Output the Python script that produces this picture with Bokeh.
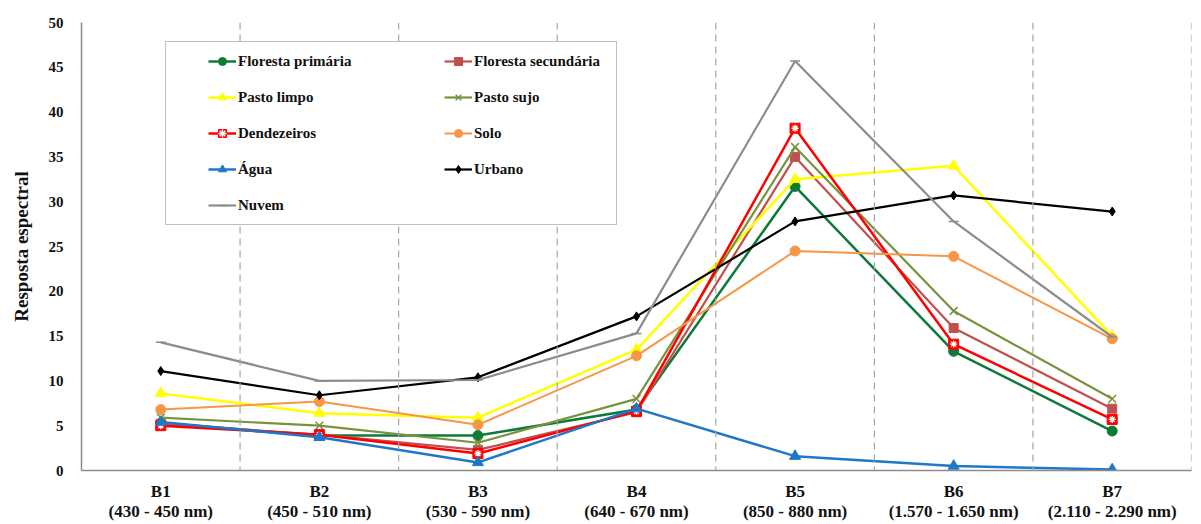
from bokeh.plotting import figure
from bokeh.models import FactorRange, Range1d, Span, Legend, LegendItem, FixedTicker
from bokeh.embed import file_html
from bokeh.resources import INLINE

bands = ["B1\n(430 - 450 nm)", "B2\n(450 - 510 nm)", "B3\n(530 - 590 nm)",
         "B4\n(640 - 670 nm)", "B5\n(850 - 880 nm)", "B6\n(1.570 - 1.650 nm)",
         "B7\n(2.110 - 2.290 nm)"]

floresta_primaria = [5.3, 3.9, 3.9, 6.8, 31.7, 13.3, 4.4]
floresta_secundaria = [5.2, 4.0, 2.3, 6.5, 35.0, 15.9, 6.9]
pasto_limpo = [8.6, 6.4, 5.9, 13.5, 32.5, 34.0, 15.0]
pasto_sujo = [5.9, 5.0, 3.1, 8.0, 36.1, 17.8, 8.0]
dendezeiros = [5.0, 4.0, 1.9, 6.6, 38.2, 14.1, 5.7]
solo = [6.8, 7.7, 5.1, 12.8, 24.5, 23.9, 14.7]
agua = [5.4, 3.7, 0.9, 6.9, 1.6, 0.5, 0.1]
urbano = [11.1, 8.4, 10.4, 17.2, 27.8, 30.7, 28.9]
nuvem = [14.3, 10.0, 10.1, 15.3, 45.7, 27.8, 14.9]

FONT = "Liberation Serif"

p = figure(x_range=FactorRange(factors=bands), y_range=Range1d(0, 50),
           frame_width=1110, frame_height=448, output_backend="svg", toolbar_location=None,
           min_border_left=81, min_border_right=4, min_border_top=22, min_border_bottom=46)
p.outline_line_color = None
p.xgrid.grid_line_color = None
p.ygrid.grid_line_color = None
p.background_fill_color = "white"

for ax in (p.xaxis[0], p.yaxis[0]):
    ax.axis_line_color = "#8C8C8C"
    ax.axis_line_width = 1.5
    ax.major_tick_line_color = None
    ax.minor_tick_line_color = None
    ax.major_label_text_font = FONT
    ax.major_label_text_font_style = "bold"
    ax.major_label_text_color = "#111111"

p.yaxis.ticker = FixedTicker(ticks=list(range(0, 51, 5)))
p.yaxis.major_label_text_font_size = "15px"
p.yaxis.major_label_standoff = 12
p.yaxis.axis_label = "Resposta espectral"
p.yaxis.axis_label_text_font = FONT
p.yaxis.axis_label_text_font_style = "bold"
p.yaxis.axis_label_text_font_size = "19px"
p.yaxis.axis_label_text_color = "#111111"
p.yaxis.axis_label_standoff = 14
p.xaxis.major_label_text_font_size = "17px"
p.xaxis.major_label_text_line_height = 1.1
p.xaxis.major_label_standoff = 5

for i in range(1, len(bands) + 1):
    p.add_layout(Span(location=i, dimension="height", line_color="#A6A6A6",
                      line_dash="7 5", line_width=1.2))

items = []

def series(name, ys, color, marker, size, lw, extra=None):
    r = [p.line(bands, ys, line_color=color, line_width=lw)]
    if marker in ("x", "dash"):
        r.append(p.scatter(bands, ys, marker=marker, size=size, line_color=color, line_width=1.5,
                           fill_color=None))
    else:
        r.append(p.scatter(bands, ys, marker=marker, size=size, fill_color=color, line_color=color))
    if extra is not None:
        r.append(p.scatter(bands, ys, marker=extra, size=size * 0.7, line_color="white",
                           line_width=1.3, fill_color=None))
    items.append(LegendItem(label=name, renderers=r))

series("Floresta primária", floresta_primaria, "#0E7A3A", "circle", 10, 2.5)
series("Floresta secundária", floresta_secundaria, "#C0504D", "square", 9, 2.2)
series("Pasto limpo", pasto_limpo, "#FFFF00", "triangle", 11, 2.5)
series("Pasto sujo", pasto_sujo, "#77933C", "x", 11, 2.2)
series("Dendezeiros", dendezeiros, "#FF0000", "square", 10, 2.5, extra="asterisk")
series("Solo", solo, "#F79646", "circle", 10, 2.0)
series("Água", agua, "#1F77C8", "triangle", 11, 2.5)
series("Urbano", urbano, "#000000", "diamond", 9, 2.2)
series("Nuvem", nuvem, "#8C8C8C", "dash", 10, 2.2)

def make_legend(its, loc, label_width, boxed):
    lg = Legend(items=its, location=loc)
    lg.label_text_font = FONT
    lg.label_text_font_style = "bold"
    lg.label_text_font_size = "15px"
    lg.label_text_color = "#111111"
    lg.glyph_width = 28
    lg.glyph_height = 20
    lg.label_height = 20
    lg.label_standoff = 2
    lg.label_width = label_width
    lg.spacing = 16
    lg.padding = 9
    lg.margin = 0
    if boxed:
        lg.title = " "
        lg.title_location = "left"
        lg.title_text_font_size = "1px"
        lg.title_standoff = 32
        lg.border_line_color = "#7F7F7F"
        lg.border_line_width = 1.2
        lg.background_fill_alpha = 1
    else:
        lg.border_line_color = None
        lg.background_fill_alpha = 0
    return lg

col1 = [items[i] for i in (0, 2, 4, 6, 8)]
col2 = [items[i] for i in (1, 3, 5, 7)]
p.add_layout(make_legend(col1, (84, 245), 369, True))
p.add_layout(make_legend(col2, (363, 291), 130, False))

open("out.html", "w").write(file_html(p, INLINE))
